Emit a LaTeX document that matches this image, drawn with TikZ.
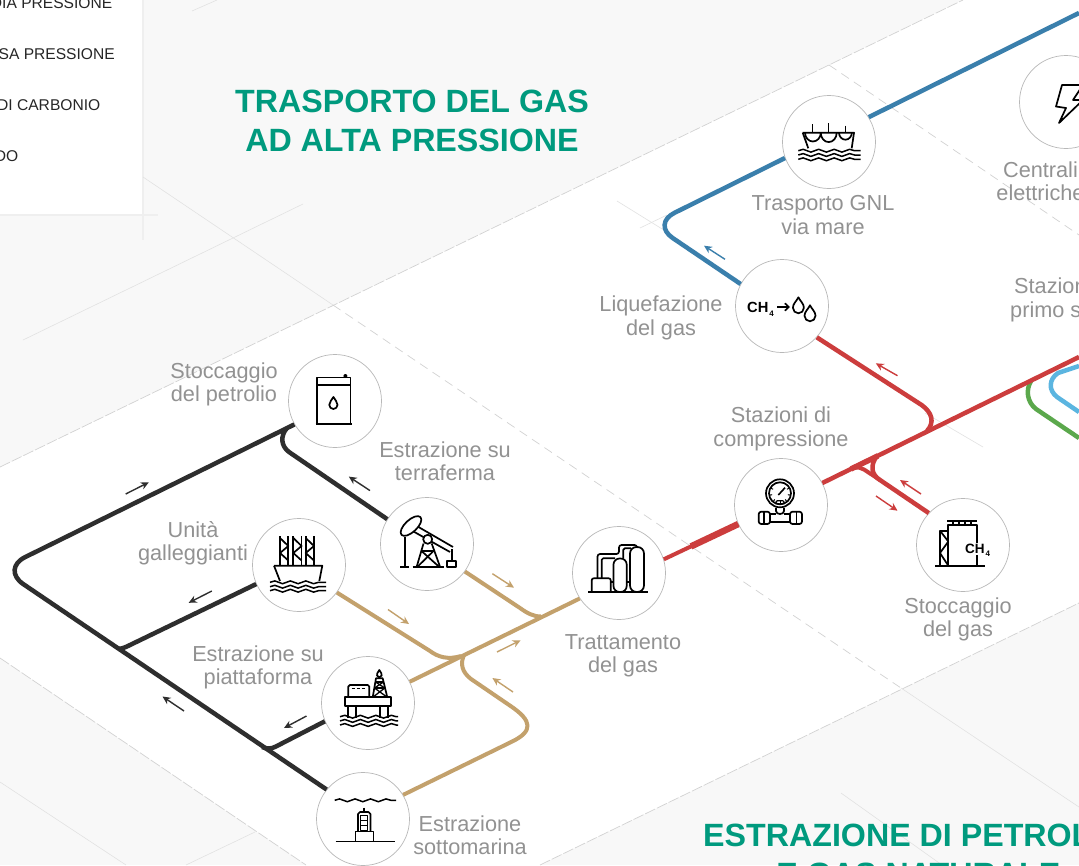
\documentclass[tikz,border=0pt]{standalone}
\usepackage{fontspec}
\setmainfont{Liberation Sans}
\usetikzlibrary{arrows.meta,decorations.pathmorphing}
\definecolor{bggray}{HTML}{F8F8F8}
\definecolor{gridline}{HTML}{E2E2E2}
\definecolor{dashline}{HTML}{D2D2D2}
\definecolor{legline}{HTML}{EFEFEF}
\definecolor{titlegreen}{HTML}{009A7E}
\definecolor{labelgray}{HTML}{929292}
\definecolor{ringgray}{HTML}{B8B8B8}
\definecolor{pipeblack}{HTML}{2E2E2E}
\definecolor{pipetan}{HTML}{C3A16C}
\definecolor{pipered}{HTML}{CC3D3D}
\definecolor{pipeblue}{HTML}{3A7FAC}
\definecolor{pipesky}{HTML}{5BB5E0}
\definecolor{pipegreen}{HTML}{5BA84C}
\tikzset{
  x=1pt,y=-1pt,
  hub/.style={circle,draw=ringgray,line width=.7pt,fill=white,minimum size=93pt,inner sep=0pt},
  lbl/.style={align=center,text=labelgray,inner sep=0pt,font=\fontsize{21.7}{23.5}\selectfont},
  maintitle/.style={align=center,text=titlegreen,inner sep=0pt,font=\fontsize{32.2}{39}\selectfont\bfseries},
  legendtxt/.style={anchor=base east,inner sep=0pt,text=black!85,font=\fontsize{15.6}{18}\selectfont},
  thin grid/.style={draw=gridline,line width=.6pt},
  dash grid/.style={draw=dashline,line width=.7pt,dash pattern=on 9pt off 6pt},
  edge grid/.style={draw=dashline,line width=.7pt,dash pattern=on 11pt off 2pt},
  pipe/.style={line width=4.5pt,line join=round},
  flow/.style={line width=1.4pt,-{Stealth[length=8pt,width=7.5pt]}},
  icon/.style={draw=black,line width=1.7pt,line join=round,fill=none},
  wave/.style={draw=black,line width=1.5pt,decorate,decoration={snake,amplitude=1.4pt,segment length=15.5pt}},
}
\newcommand\mydrop[3]{\draw[icon,shift={(#1,#2)},scale=#3] (0,-8) .. controls (2,-4) and (5.5,-1.5) .. (5.5,2.5) .. controls (5.5,5.5) and (3,8) .. (0,8) .. controls (-3,8) and (-5.5,5.5) .. (-5.5,2.5) .. controls (-5.5,-1.5) and (-2,-4) .. (0,-8) -- cycle;}
\begin{document}
\begin{tikzpicture}
\useasboundingbox (0,0) rectangle (1079,865);
\clip (0,0) rectangle (1079,865);
% background
\fill[bggray] (0,0) rectangle (1079,865);
\fill[white] (0,467) -- (963,0) -- (1079,0) -- (1079,603) -- (540,865) -- (306,865) -- (0,658) -- cycle;
\fill[white] (0,0) rectangle (143,215);
\draw[legline,line width=1.4pt] (143,0) -- (143,240);
\draw[legline,line width=1.2pt] (0,215) -- (158,215);
\draw[thin grid] (143,177) -- (333,305);
\draw[thin grid] (23,340) -- (303,204);
\draw[thin grid] (192,11) -- (217,0);
\draw[thin grid] (901,688) -- (1079,807);
\draw[thin grid] (841,793) -- (942,865);
\draw[thin grid] (0,782) -- (126,865);
\draw[thin grid] (186,865) -- (255,832);
\draw[thin grid] (617,201) -- (667,232);
\draw[thin grid] (640,228) -- (667,215);
\draw[thin grid] (925,413) -- (983,447);
\draw[edge grid] (0,467) -- (963,0);
\draw[edge grid] (0,658) -- (306,865);
\draw[edge grid] (540,865) -- (1079,603);
\draw[dash grid] (333,305) -- (901,688);
\draw[dash grid] (829,65) -- (1079,235);
% legend text
\node[legendtxt] (leg1) at (112.5,8.5) {DIA PRESSIONE};
\node[legendtxt] (leg2) at (115,59) {SA PRESSIONE};
\node[legendtxt] (leg3) at (100.5,110) {DI CARBONIO};
\node[legendtxt] (leg4) at (18.5,161) {DO};
% titles
\node[maintitle] (t1) at (412,120.5) {TRASPORTO DEL GAS\\AD ALTA PRESSIONE};
\node[maintitle,anchor=north west] (t2) at (703,823.5) {ESTRAZIONE DI PETROLIO\\\hspace*{8pt}E GAS NATURALE};
% hubs
\node[hub] (stock) at (335,401) {};
\node[hub] (terra) at (427,544) {};
\node[hub] (float) at (299,565) {};
\node[hub] (plat) at (368,703) {};
\node[hub] (sub) at (363,819) {};
\node[hub] (treat) at (619,573) {};
\node[hub] (comp) at (781,505) {};
\node[hub] (gasst) at (963,545) {};
\node[hub] (liq) at (782,306) {};
\node[hub] (gnl) at (829,142) {};
\node[hub] (power) at (1066,102) {};
% junction and free-end coordinates
\coordinate (bk) at (1,569);
\coordinate (tanj) at (541,616.5);
\coordinate (blc) at (652,224);
\coordinate (blend) at (1079,13);
\coordinate (redend) at (1079,357);
% back pipes
\draw[pipe,pipegreen] (1031,381) .. controls (1025.5,390) and (1027,402) .. (1036,409) -- (1079,438);
\draw[pipe,pipesky] (1079,366) -- (1058,373) .. controls (1049,379) and (1048,390) .. (1057,397) -- (1079,412);
% black pipes
\draw[pipe,pipeblack,rounded corners=27] (stock.210) -- (bk) -- (sub.141.6);
\draw[pipe,pipeblack] (terra.148) -- (289,452) .. controls (281,446) and (280,436) .. (287,428);
\draw[pipe,pipeblack] (float.204.5) -- (130,645) .. controls (126,647) and (123,648.5) .. (118,649);
\draw[pipe,pipeblack] (plat.203.6) -- (275.5,746.7) .. controls (271,749) and (267,749) .. (262,747);
% tan pipes
\draw[pipe,pipetan,line width=4pt] (treat.213) -- (plat.27);
\draw[pipe,pipetan,line width=4pt] (terra.324) -- (520,608) .. controls (527,613) and (533,616.5) .. (tanj);
\draw[pipe,pipetan,line width=4pt] (float.324) -- (430,651) .. controls (438,657) and (448,660) .. (461,656);
\draw[pipe,pipetan,line width=4pt] (sub.31) -- (512,741.6) .. controls (533,731.3) and (533,721) .. (510,705.6) -- (471,679) .. controls (462,672) and (460,664) .. (464,655);
% red pipes
\draw[pipe,pipered,line width=4pt] (treat.17) -- (comp.204);
\draw[pipe,pipered,line width=6.5pt] (691,546.4) -- (comp.204);
\draw[pipe,pipered] (comp.28) -- (redend);
\draw[pipe,pipered,line width=5.5pt] (851,469) -- (878,455.8);
\draw[pipe,pipered] (liq.318) -- (921.6,405) .. controls (932,412.5) and (935,422) .. (927,431);
\draw[pipe,pipered] (gasst.137.6) -- (880,480) .. controls (871,474.5) and (870,465) .. (877,456);
\draw[pipe,pipered,line width=4pt] (880,480) -- (864,469.5) .. controls (861,467.5) and (858,467) .. (853,468);
% blue pipes
\draw[pipe,pipeblue,rounded corners=25] (liq.152) -- (blc) -- (gnl.200);
\draw[pipe,pipeblue] (gnl.32) -- (blend);
% flow arrows
\draw[flow,pipeblack] (125.7,494) -- (148.8,482.3);
\draw[flow,pipeblack] (370,490.6) -- (348.8,476.6);
\draw[flow,pipeblack] (211.8,591) -- (188.7,602.8);
\draw[flow,pipeblack] (306.5,716) -- (284,728);
\draw[flow,pipeblack] (184,711) -- (162.5,696.5);
\draw[flow,pipetan] (492.4,573.7) -- (514,587.7);
\draw[flow,pipetan] (388,609.5) -- (409,624);
\draw[flow,pipetan] (497,652) -- (520.6,640.3);
\draw[flow,pipetan] (513,692) -- (492.4,678);
\draw[flow,pipeblue] (725,259.3) -- (704,245.7);
\draw[flow,pipered] (897.5,375.7) -- (875.8,363.3);
\draw[flow,pipered] (921,494) -- (900,480);
\draw[flow,pipered] (876,496) -- (897.5,510.7);
% labels
\node[lbl] (lstock) at (224,384.5) {Stoccaggio\\del petrolio};
\node[lbl] (lterra) at (445,461) {Estrazione su\\terraferma};
\node[lbl] (lfloat) at (193,543.5) {Unità\\galleggianti};
\node[lbl] (lplat) at (258,667.5) {Estrazione su\\piattaforma};
\node[lbl] (lsub) at (470,835) {Estrazione\\sottomarina};
\node[lbl] (ltreat) at (623,656) {Trattamento\\del gas};
\node[lbl] (lcomp) at (781,429) {Stazioni di\\compressione};
\node[lbl] (lgasst) at (958,619.5) {Stoccaggio\\del gas};
\node[lbl] (lliq) at (661,318) {Liquefazione\\del gas};
\node[lbl] (lgnl) at (823,215) {Trasporto GNL\\via mare};
\node[lbl] (lpower) at (1040.5,181) {Centrali\\elettriche};
\node[lbl,align=left,anchor=west] (lstat) at (1010,300) {\hspace*{4pt}Stazioni\\primo s};
% --- icons ---
% oil drum
\draw[icon] (316.8,385) -- (316.8,423.7) (350.5,385) -- (350.5,423.7);
\draw[icon] (316.8,377.5) rectangle (350.5,385);
\draw[icon] (315.5,423.7) -- (352,423.7);
\fill (345.4,376) circle (2);
\mydrop{333.4}{403}{.75}
% pump jack
\draw[icon] (405,536.7) -- (405,566);
\draw[icon] (400,566.7) -- (409.3,566.7);
\draw[icon,rotate around={43:(411,526)}] (411,526) ellipse [x radius=13,y radius=6];
\draw[icon] (418.5,527) -- (453,547);
\draw[icon] (413.5,531.5) -- (450,552);
\draw[icon] (451.7,549) -- (451.7,561);
\draw[icon] (447.3,561) rectangle (455.7,566.7);
\draw[icon,fill=white] (427.7,539.3) circle (4.5);
\draw[icon] (423.5,543.5) -- (416.7,566.7);
\draw[icon] (431.7,543.5) -- (440,566.7);
\draw[icon] (421.5,551) -- (433.5,551);
\draw[icon] (421.5,551) -- (439,566.7);
\draw[icon] (433.5,551) -- (417.5,566.7);
\draw[icon] (412.7,566.7) -- (444,566.7);
% rig on ship
\foreach \tx in {280,293.3,305.7}{
  \draw[icon] (\tx,536) -- (\tx,565.7);
  \draw[icon] (\tx+8.3,536) -- (\tx+8.3,565.7);
  \draw[icon] (\tx,538) -- (\tx+8.3,546) -- (\tx,553) -- (\tx+8.3,560.5);
}
\draw[icon] (274,565.7) -- (322.3,565.7) -- (319.3,581);
\draw[icon] (274,565.7) -- (280,581);
\draw[wave] (270,582.3) -- (326,582.3);
\draw[wave] (270,586.7) -- (326,586.7);
\draw[wave] (270,590.7) -- (326,590.7);
% platform
\draw[icon] (345,697.3) rectangle (391,705.7);
\draw[icon,rounded corners=1.5] (348.3,697.3) -- (348.3,685) -- (369.3,685) -- (369.3,697.3);
\draw[icon,dash pattern=on 3.2pt off 1.8pt,line width=1.2pt] (351.5,688.5) -- (366,688.5);
\draw[icon] (372.7,697.3) -- (376,678.3) -- (382.7,678.3) -- (387.3,697.3);
\draw[icon,line width=1.3pt] (375.5,682) -- (383.5,682) (374.5,688) -- (384.8,688);
\draw[icon,line width=1.3pt] (375.5,682) -- (384.8,688) -- (372.7,697.3);
\draw[icon,line width=1.3pt] (383.5,682) -- (374.5,688) -- (387.3,697.3);
\draw[icon] (379.3,670) .. controls (381,672.5) and (382,674) .. (381.7,675.5) .. controls (381,678) and (377.5,678) .. (377,675.5) .. controls (376.6,674) and (377.6,672.5) .. (379.3,670) -- cycle;
\foreach \lx in {348.3,356,380,387.7}{\draw[icon] (\lx,705.7) -- (\lx,717.7);}
\draw[wave] (340,716.7) -- (398,716.7);
\draw[wave] (340,720.9) -- (398,720.9);
\draw[wave] (340,725) -- (398,725);
% subsea
\draw[wave] (334.7,800.3) -- (396,800.3);
\draw[icon] (335.7,841.5) -- (395,841.5);
\draw[icon] (355.4,841.5) -- (355.4,831.5) -- (373.6,831.5) -- (373.6,841.5);
\draw[icon] (358,831.5) -- (358,814) -- (360,812) -- (368.5,812) -- (370.5,814) -- (370.5,831.5);
\draw[icon,line width=1.3pt] (360.5,815.4) rectangle (367.8,830.4);
\draw[icon,line width=1.3pt] (360.5,820.5) -- (367.8,820.5);
\draw[icon,line width=1.3pt] (360.5,825.5) -- (367.8,825.5);
\draw[icon] (364.3,807.7) -- (364.3,812);
% refinery
\draw[icon] (588.3,592.3) -- (648.3,592.3);
\draw[icon,rounded corners=2] (591.7,592.3) -- (591.7,578.3) -- (610.7,578.3) -- (610.7,592.3);
\draw[icon,rounded corners=6.5] (630,592) -- (630,547) -- (644,547) -- (644,592) -- cycle;
\draw[icon,rounded corners=6] (613.5,592) -- (613.5,558.5) -- (626.7,558.5) -- (626.7,592) -- cycle;
\draw[icon] (610.7,581.7) -- (613.5,581.7);
\draw[icon] (626.7,581.7) -- (630,581.7);
\draw[icon,rounded corners=2.5] (597.5,578.3) -- (597.5,554) -- (619,554) -- (619,545) -- (637,545) -- (637,547);
\draw[icon,rounded corners=1.5] (601.7,578.3) -- (601.7,558.3) -- (615,558.3);
\draw[icon,rounded corners=1.5] (623.3,558.5) -- (623.3,548.3) -- (631,548.3);
% gauge
\draw[icon] (780,493.3) circle (14);
\draw[icon] (780,493.3) circle (11);
\foreach \ga in {-30,10,50,90,130,170,210}{\draw[icon,line width=1pt] (780,493.3) ++(\ga:8) -- ++(\ga:2.2);}
\draw[icon,line width=1.6pt] (778.3,495) -- (785,487.7);
\draw[icon,line width=1.2pt,rounded corners=1.2] (776,500.7) rectangle (784,504);
\draw[icon] (776,507.8) -- (776,511) .. controls (776,515) and (784,515) .. (784,511) -- (784,507.8);
\draw[icon] (770,514) -- (776,514) (784,514) -- (790,514);
\draw[icon] (770,521.7) -- (790,521.7);
\draw[icon,rounded corners=2.5] (758.7,511.7) rectangle (770,524);
\draw[icon,rounded corners=2.5] (790,511.7) rectangle (802,524);
\draw[icon,line width=1.2pt] (764,511.7) -- (764,524) (796.7,511.7) -- (796.7,524);
% gas tank
\draw[icon] (935,565.7) -- (985,565.7);
\draw[icon] (948.3,565.7) -- (948.3,525) -- (977.3,525) -- (977.3,543);
\draw[icon] (977.3,555) -- (977.3,565.7);
\draw[icon] (947.3,521.3) -- (977.3,521.3);
\foreach \rx in {953,959,965,971}{\draw[icon,line width=1.1pt] (\rx,521) -- (\rx,525);}
\draw[icon] (940,565.7) -- (940,530.7) -- (948.3,530.7);
\draw[icon] (940,530.7) -- (948.3,541.5) -- (940,553) -- (948.3,565.7);
\node[inner sep=0pt,anchor=base west,text=black,font=\fontsize{13.5}{14}\selectfont\bfseries] (tanktxt) at (965,553) {CH\kern1pt\raisebox{-3pt}{\fontsize{8}{8}\selectfont 4}};
% liquefaction
\node[inner sep=0pt,anchor=base west,text=black,font=\fontsize{14.7}{15}\selectfont\bfseries] (liqtxt) at (747,312.3) {CH\kern1pt\raisebox{-4pt}{\fontsize{8}{8}\selectfont 4}};
\draw[icon,-{Straight Barb[length=4pt,width=7.5pt]},line width=1.6pt] (777,307) -- (790,307);
\mydrop{798.4}{305.3}{1}
\mydrop{810}{313.3}{1}
% LNG ship
\draw[icon] (802.7,132.7) -- (854,132.7) -- (851.7,148.3);
\draw[icon] (802.7,132.7) -- (808.3,148.3);
\draw[icon] (805,132.7) arc[start angle=180,end angle=0,x radius=7.9,y radius=8.8];
\draw[icon] (820.7,132.7) arc[start angle=180,end angle=0,x radius=8,y radius=9.4];
\draw[icon] (839,132.7) arc[start angle=180,end angle=0,x radius=6.4,y radius=7];
\draw[icon,line width=1.2pt] (812.7,124) -- (812.7,132.7) (828.7,123.3) -- (828.7,132.7) (845.3,125.7) -- (845.3,132.7);
\draw[wave] (798.3,150.7) -- (860.7,150.7);
\draw[wave] (798.3,155) -- (860.7,155);
\draw[wave] (798.3,159.3) -- (860.7,159.3);
% lightning
\draw[icon] (1062,85) -- (1083,85) -- (1073,100) -- (1083,100) -- (1059,123) -- (1066,108) -- (1056,106.5) -- cycle;
\end{tikzpicture}
\end{document}
